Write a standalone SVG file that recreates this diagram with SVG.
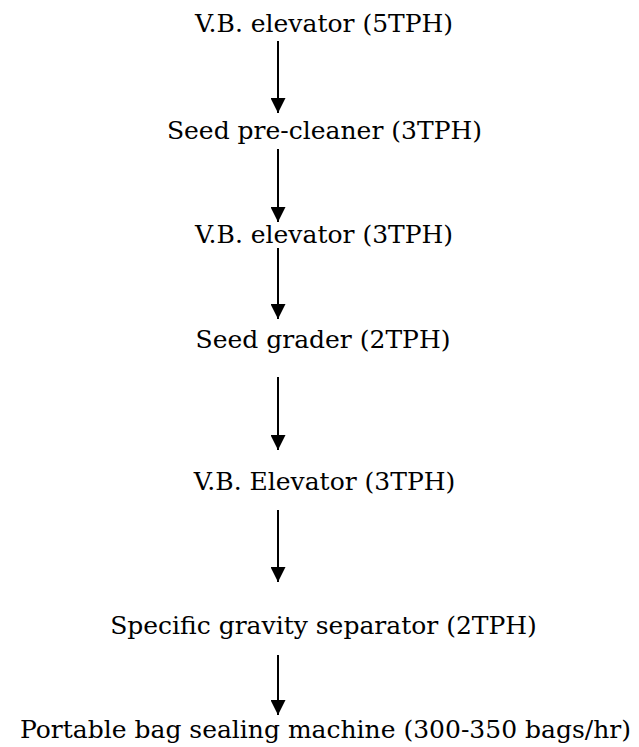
<svg xmlns="http://www.w3.org/2000/svg" width="639" height="747" viewBox="0 0 639 747">
<defs>
<marker id="ah" viewBox="0 0 15 15" refX="15" refY="7.5" markerWidth="15" markerHeight="15" markerUnits="userSpaceOnUse" orient="auto">
<path d="M0,0 L15,7.5 L0,15 Z" fill="#000"/>
</marker>
<style>
.t{font-family:"DejaVu Serif","Liberation Serif",serif;font-size:25px;fill:#000;text-anchor:middle}
.c line{stroke:#000;stroke-width:2;marker-end:url(#ah)}
</style>
</defs>
<rect width="639" height="747" fill="#fff"/>
<g id="n1"><text class="t" x="324" y="32">V.B. elevator (5TPH)</text></g>
<g id="n2"><text class="t" x="324.5" y="139">Seed pre-cleaner (3TPH)</text></g>
<g id="n3"><text class="t" x="324" y="243">V.B. elevator (3TPH)</text></g>
<g id="n4"><text class="t" x="323" y="348">Seed grader (2TPH)</text></g>
<g id="n5"><text class="t" x="324.5" y="490">V.B. Elevator (3TPH)</text></g>
<g id="n6"><text class="t" x="323.5" y="634">Specific gravity separator (2TPH)</text></g>
<g id="n7"><text class="t" x="325.5" y="738">Portable bag sealing machine (300-350 bags/hr)</text></g>
<g id="connectors" class="c">
<line x1="278" y1="41" x2="278" y2="113"/>
<line x1="278" y1="149" x2="278" y2="222"/>
<line x1="278" y1="248" x2="278" y2="319"/>
<line x1="278" y1="377" x2="278" y2="450"/>
<line x1="278" y1="510" x2="278" y2="582"/>
<line x1="278" y1="655" x2="278" y2="715"/>
</g>
</svg>
